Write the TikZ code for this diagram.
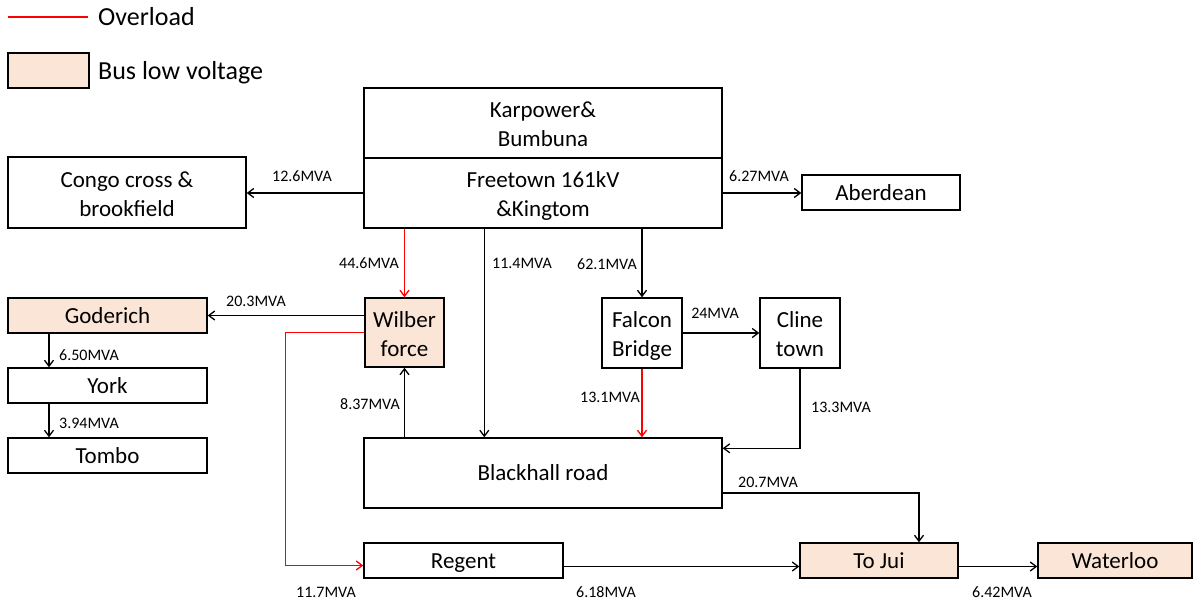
\documentclass[tikz,border=0pt]{standalone}
\usepackage{fontspec}
\setmainfont{Carlito}
\usetikzlibrary{arrows.meta}
\definecolor{lowbus}{HTML}{FBE5D6}
\definecolor{overload}{HTML}{FF0000}
\newcommand{\boxfont}{\fontsize{23}{29}\selectfont}
\newcommand{\lblfont}{\fontsize{16}{19}\selectfont}
\newcommand{\legfont}{\fontsize{26}{30}\selectfont}
\begin{document}
\begin{tikzpicture}[x=1pt,y=-1pt,
  bus/.style={draw=black, line width=1.4pt, inner sep=0pt, align=center,
    font=\boxfont, line join=miter, text height=20pt, text depth=5pt},
  twoline/.style={text height=52pt, text depth=5pt},
  lowv/.style={bus, fill=lowbus},
  flow/.style={line width=1.3pt, draw=black, ->},
  over/.style={line width=1.3pt, draw=overload, ->},
  mva/.style={font=\lblfont, inner sep=0pt},
  >={Straight Barb[length=6pt,width=9pt]}]
\useasboundingbox (0,0) rectangle (1195,603);

% legend
\coordinate (legA) at (8,17);
\coordinate (legB) at (88,17);
\draw[line width=1.3pt, overload] (legA) -- (legB);
\node[font=\legfont, anchor=west, inner sep=0pt] (legover) at (98,17) {Overload};
\node[draw=black, fill=lowbus, line width=2.2pt, minimum width=81pt, minimum height=35pt] (legbox) at (48.5,70.5) {};
\node[font=\legfont, anchor=west, inner sep=0pt] (leglow) at (98,72.5) {Bus low voltage};

% buses
\node[bus, twoline, minimum width=358pt, minimum height=70pt] (kb) at (543,123) {Karpower\&\\Bumbuna};
\node[bus, twoline, minimum width=358pt, minimum height=70pt] (kf) at (543,193) {Freetown 161kV\\\&Kingtom};
\node[bus, twoline, minimum width=238pt, minimum height=71pt] (cg) at (127,192.5) {Congo cross \&\\brookfield};
\node[bus, minimum width=158pt, minimum height=35pt] (ab) at (881,192.5) {Aberdean};
\node[lowv, twoline, minimum width=79pt, minimum height=69pt] (wil) at (404.5,332.5) {Wilber\\force};
\node[lowv, minimum width=199pt, minimum height=35pt] (god) at (107.5,315.5) {Goderich};
\node[bus, minimum width=199pt, minimum height=35pt] (yk) at (107.5,385.5) {York};
\node[bus, minimum width=199pt, minimum height=35pt] (tb) at (107.5,455.5) {Tombo};
\node[bus, twoline, minimum width=80pt, minimum height=70pt] (fb) at (642,333) {Falcon\\Bridge};
\node[bus, twoline, minimum width=80pt, minimum height=70pt] (ct) at (800,333) {Cline\\town};
\node[bus, minimum width=358pt, minimum height=70pt] (bh) at (543,473) {Blackhall road};
\node[bus, minimum width=199pt, minimum height=35pt] (reg) at (463.5,560.5) {Regent};
\node[lowv, minimum width=158pt, minimum height=35pt] (tj) at (879,560.5) {To Jui};
\node[lowv, minimum width=154pt, minimum height=35pt] (wt) at (1115,560.5) {Waterloo};

% power flows
\draw[flow] (kf.west) -- (kf.west -| cg.east);
\draw[flow] (kf.east) -- (kf.east -| ab.west);
\draw[over] (kf.south -| wil.north) -- (wil.north);
\draw[flow] ([xshift=121pt]kf.south west) -- ([xshift=121pt]bh.north west);
\draw[flow] (kf.south -| fb.north) -- (fb.north);
\draw[flow] (wil.west |- god.east) -- (god.east);
\draw[flow] ([xshift=-58.5pt]god.south) -- ([xshift=-58.5pt]yk.north);
\draw[flow] ([xshift=-58.5pt]yk.south) -- ([xshift=-58.5pt]tb.north);
\draw[flow] (fb.east) -- (ct.west);
\draw[over] (fb.south) -- (fb.south |- bh.north);
\draw[flow] (ct.south) |- ([yshift=-11pt]bh.north east);
\draw[flow] (bh.north -| wil.south) -- (wil.south);
\draw[flow] ([yshift=-20pt]bh.east) -| ([xshift=40pt]tj.north);
\draw[over] (wil.west) -- ++(-79pt,0) |- ([yshift=-5pt]reg.west);
\draw[flow] ([yshift=-6pt]reg.east) -- ([yshift=-6pt]tj.west);
\draw[flow] ([yshift=-6pt]tj.east) -- ([yshift=-6pt]wt.west);

% flow values
\node[mva] (m1) at (302,176) {12.6MVA};
\node[mva] (m2) at (759,176) {6.27MVA};
\node[mva] (m3) at (369,263) {44.6MVA};
\node[mva] (m4) at (522,263) {11.4MVA};
\node[mva] (m5) at (607,264) {62.1MVA};
\node[mva] (m6) at (256,301) {20.3MVA};
\node[mva] (m7) at (715,313) {24MVA};
\node[mva, anchor=west] (m8) at (59,355) {6.50MVA};
\node[mva, anchor=west] (m9) at (59,423) {3.94MVA};
\node[mva] (m10) at (610,397) {13.1MVA};
\node[mva] (m11) at (841,407) {13.3MVA};
\node[mva] (m12) at (370,404) {8.37MVA};
\node[mva] (m13) at (768,482) {20.7MVA};
\node[mva] (m14) at (326,592) {11.7MVA};
\node[mva] (m15) at (606,592) {6.18MVA};
\node[mva] (m16) at (1002,592) {6.42MVA};
\end{tikzpicture}
\end{document}
